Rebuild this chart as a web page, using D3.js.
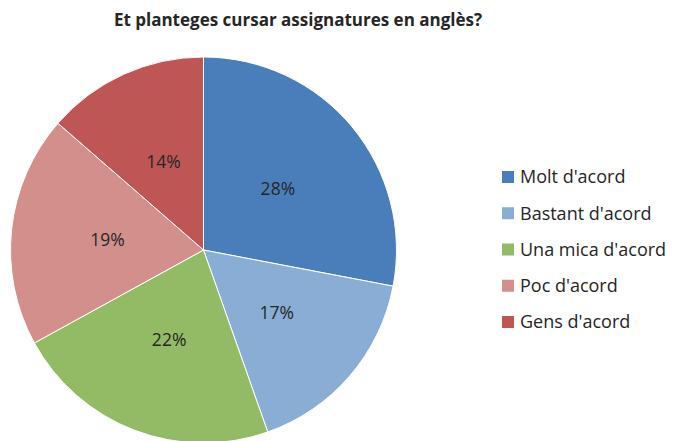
<!DOCTYPE html>
<html><head><meta charset="utf-8">
<script src="https://cdn.jsdelivr.net/npm/d3@7"></script>
<style>body{margin:0;background:#fff}</style>
</head><body>
<svg id="c" width="674" height="441"></svg>
<script>
const categories = ["Molt d'acord","Bastant d'acord","Una mica d'acord","Poc d'acord","Gens d'acord"];
const values = [28.0,16.6,22.4,19.4,13.6];
const colors = ["#4A7EBB","#89ADD4","#93BB65","#D38F8C","#BE5655"];
const title = "Et planteges cursar assignatures en anglès?";

const svg = d3.select("#c");
const font = "'Open Sans', 'Liberation Sans', sans-serif";
const cx = 203.5, cy = 250, r = 193;

svg.append("text").attr("x",298).attr("y",26).attr("text-anchor","middle")
  .attr("font-family",font).attr("font-weight","bold").attr("font-size",17).attr("fill","#262626").text(title);

const total = d3.sum(values);
const pie = d3.pie().sort(null).value(d=>d);
const arc = d3.arc().innerRadius(0).outerRadius(r);
const g = svg.append("g").attr("transform",`translate(${cx},${cy})`);
const arcs = pie(values);
g.selectAll("path").data(arcs).join("path").attr("d",arc)
  .attr("fill",(d,i)=>colors[i]).attr("stroke","#fff").attr("stroke-width",1);
g.selectAll("text").data(arcs).join("text")
  .attr("transform",d=>`translate(${arc.centroid(d)})`)
  .attr("text-anchor","middle").attr("dy","0.35em")
  .attr("font-family",font).attr("font-size",17.5).attr("fill","#262626")
  .text(d=>Math.round(d.data/total*100)+"%");

const lg = svg.append("g");
const ly = d3.scalePoint().domain(categories).range([177,322]);
categories.forEach((c,i)=>{
  lg.append("rect").attr("x",502).attr("y",ly(c)-6).attr("width",12).attr("height",12).attr("fill",colors[i]);
  lg.append("text").attr("x",520).attr("y",ly(c)).attr("dy","0.35em")
    .attr("font-family",font).attr("font-size",18).attr("fill","#262626").text(c);
});
</script>
</body></html>
